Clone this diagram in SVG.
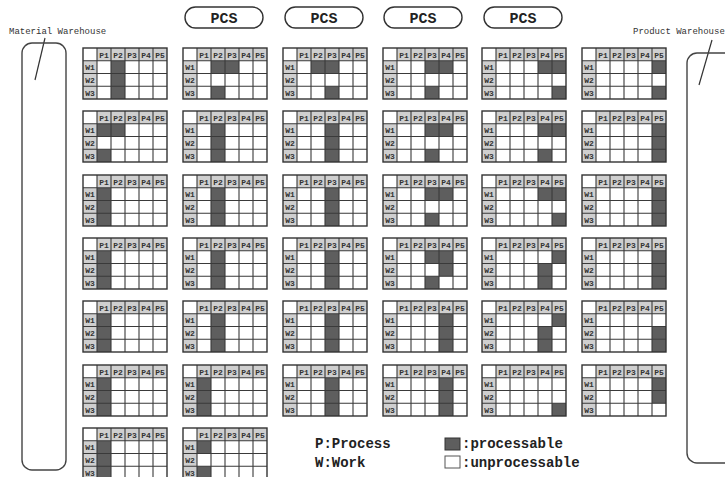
<svg xmlns="http://www.w3.org/2000/svg" xmlns:xlink="http://www.w3.org/1999/xlink" width="725" height="477" viewBox="0 0 725 477">
<style>
.bg{fill:#ffffff}
.hd{fill:#cfcfcf}
.on{fill:#5e5e5e}
.gl{fill:none;stroke:#3a3a3a;stroke-width:1.1}
.ol{fill:none;stroke:#333;stroke-width:1.4}
.ht{font-family:"Liberation Mono",monospace;font-size:8px;font-weight:bold;fill:#333;text-anchor:middle}
.pill{fill:#fff;stroke:#333;stroke-width:1.4}
.pt{font-family:"Liberation Mono",monospace;font-size:15px;font-weight:bold;fill:#222;text-anchor:middle}
.wh{fill:none;stroke:#444;stroke-width:1.4}
.wl{font-family:"Liberation Mono",monospace;font-size:9px;fill:#333}
.lg{font-family:"Liberation Mono",monospace;font-size:14px;font-weight:bold;fill:#222}
.ld{stroke:#333;stroke-width:1.2;fill:none}
</style>
<defs>
<rect id="c" class="on" width="14" height="12.75"/>
<rect id="col" class="on" width="14" height="38.25"/>
<g id="grid">
<rect class="hd" x="14" y="0" width="70" height="12.75"/>
<rect class="hd" x="0" y="12.75" width="14" height="38.25"/>
<path class="gl" d="M14 0V51M28 0V51M42 0V51M56 0V51M70 0V51M0 12.75H84M0 25.5H84M0 38.25H84"/>
<rect class="ol" x="0" y="0" width="84" height="51"/>
<text class="ht" x="21" y="9.5">P1</text>
<text class="ht" x="35" y="9.5">P2</text>
<text class="ht" x="49" y="9.5">P3</text>
<text class="ht" x="63" y="9.5">P4</text>
<text class="ht" x="77" y="9.5">P5</text>
<text class="ht" x="7" y="22.3">W1</text>
<text class="ht" x="7" y="35">W2</text>
<text class="ht" x="7" y="47.8">W3</text>
</g>
<rect id="bgr" class="bg" width="84" height="51"/>
</defs>

<g id="connectors">
<line class="ld" x1="45" y1="38" x2="35" y2="80"/>
<line class="ld" x1="712" y1="40" x2="699" y2="85"/>
</g>

<g id="material-warehouse">
<rect class="wh" x="22" y="43" width="44" height="427" rx="10"/>
<text class="wl" x="9" y="34">Material Warehouse</text>
</g>
<g id="product-warehouse">
<rect class="wh" x="687" y="53" width="50" height="410" rx="10"/>
<text class="wl" x="633" y="34">Product Warehouse</text>
</g>

<g id="pcs1"><rect class="pill" x="185" y="7" width="78" height="21" rx="10.5"/><text class="pt" x="224" y="23">PCS</text></g>
<g id="pcs2"><rect class="pill" x="285" y="7" width="78" height="21" rx="10.5"/><text class="pt" x="324" y="23">PCS</text></g>
<g id="pcs3"><rect class="pill" x="384" y="7" width="78" height="21" rx="10.5"/><text class="pt" x="423" y="23">PCS</text></g>
<g id="pcs4"><rect class="pill" x="484" y="7" width="78" height="21" rx="10.5"/><text class="pt" x="523" y="23">PCS</text></g>

<!-- Row 1 -->
<g id="t1-1" transform="translate(83,48)"><use href="#bgr"/><use href="#col" x="28" y="12.75"/><use href="#grid"/></g>
<g id="t1-2" transform="translate(183,48)"><use href="#bgr"/><use href="#c" x="28" y="12.75"/><use href="#c" x="42" y="12.75"/><use href="#c" x="28" y="38.25"/><use href="#grid"/></g>
<g id="t1-3" transform="translate(283,48)"><use href="#bgr"/><use href="#c" x="28" y="12.75"/><use href="#c" x="42" y="12.75"/><use href="#c" x="42" y="38.25"/><use href="#grid"/></g>
<g id="t1-4" transform="translate(383,48)"><use href="#bgr"/><use href="#c" x="42" y="12.75"/><use href="#c" x="56" y="12.75"/><use href="#c" x="42" y="38.25"/><use href="#grid"/></g>
<g id="t1-5" transform="translate(482,48)"><use href="#bgr"/><use href="#c" x="56" y="12.75"/><use href="#c" x="70" y="12.75"/><use href="#c" x="70" y="38.25"/><use href="#grid"/></g>
<g id="t1-6" transform="translate(582,48)"><use href="#bgr"/><use href="#c" x="70" y="12.75"/><use href="#c" x="70" y="38.25"/><use href="#grid"/></g>

<!-- Row 2 -->
<g id="t2-1" transform="translate(83,111)"><use href="#bgr"/><use href="#c" x="14" y="12.75"/><use href="#c" x="28" y="12.75"/><use href="#c" x="14" y="38.25"/><use href="#grid"/></g>
<g id="t2-2" transform="translate(183,111)"><use href="#bgr"/><use href="#col" x="28" y="12.75"/><use href="#grid"/></g>
<g id="t2-3" transform="translate(283,111)"><use href="#bgr"/><use href="#col" x="42" y="12.75"/><use href="#grid"/></g>
<g id="t2-4" transform="translate(383,111)"><use href="#bgr"/><use href="#c" x="42" y="12.75"/><use href="#c" x="56" y="12.75"/><use href="#c" x="42" y="38.25"/><use href="#grid"/></g>
<g id="t2-5" transform="translate(482,111)"><use href="#bgr"/><use href="#c" x="56" y="12.75"/><use href="#c" x="70" y="12.75"/><use href="#c" x="56" y="38.25"/><use href="#grid"/></g>
<g id="t2-6" transform="translate(582,111)"><use href="#bgr"/><use href="#col" x="70" y="12.75"/><use href="#grid"/></g>

<!-- Row 3 -->
<g id="t3-1" transform="translate(83,175)"><use href="#bgr"/><use href="#col" x="14" y="12.75"/><use href="#grid"/></g>
<g id="t3-2" transform="translate(183,175)"><use href="#bgr"/><use href="#col" x="28" y="12.75"/><use href="#grid"/></g>
<g id="t3-3" transform="translate(283,175)"><use href="#bgr"/><use href="#col" x="42" y="12.75"/><use href="#grid"/></g>
<g id="t3-4" transform="translate(383,175)"><use href="#bgr"/><use href="#c" x="42" y="12.75"/><use href="#c" x="56" y="12.75"/><use href="#c" x="42" y="38.25"/><use href="#grid"/></g>
<g id="t3-5" transform="translate(482,175)"><use href="#bgr"/><use href="#c" x="56" y="12.75"/><use href="#c" x="70" y="12.75"/><use href="#c" x="70" y="38.25"/><use href="#grid"/></g>
<g id="t3-6" transform="translate(582,175)"><use href="#bgr"/><use href="#col" x="70" y="12.75"/><use href="#grid"/></g>

<!-- Row 4 -->
<g id="t4-1" transform="translate(83,238)"><use href="#bgr"/><use href="#col" x="14" y="12.75"/><use href="#grid"/></g>
<g id="t4-2" transform="translate(183,238)"><use href="#bgr"/><use href="#col" x="28" y="12.75"/><use href="#grid"/></g>
<g id="t4-3" transform="translate(283,238)"><use href="#bgr"/><use href="#col" x="42" y="12.75"/><use href="#grid"/></g>
<g id="t4-4" transform="translate(383,238)"><use href="#bgr"/><use href="#c" x="42" y="12.75"/><use href="#c" x="56" y="12.75"/><use href="#c" x="56" y="25.5"/><use href="#c" x="42" y="38.25"/><use href="#grid"/></g>
<g id="t4-5" transform="translate(482,238)"><use href="#bgr"/><use href="#c" x="70" y="12.75"/><use href="#c" x="56" y="25.5"/><use href="#c" x="56" y="38.25"/><use href="#grid"/></g>
<g id="t4-6" transform="translate(582,238)"><use href="#bgr"/><use href="#col" x="70" y="12.75"/><use href="#grid"/></g>

<!-- Row 5 -->
<g id="t5-1" transform="translate(83,301)"><use href="#bgr"/><use href="#col" x="14" y="12.75"/><use href="#grid"/></g>
<g id="t5-2" transform="translate(183,301)"><use href="#bgr"/><use href="#col" x="28" y="12.75"/><use href="#grid"/></g>
<g id="t5-3" transform="translate(283,301)"><use href="#bgr"/><use href="#col" x="42" y="12.75"/><use href="#grid"/></g>
<g id="t5-4" transform="translate(383,301)"><use href="#bgr"/><use href="#col" x="56" y="12.75"/><use href="#grid"/></g>
<g id="t5-5" transform="translate(482,301)"><use href="#bgr"/><use href="#c" x="70" y="12.75"/><use href="#c" x="56" y="25.5"/><use href="#c" x="56" y="38.25"/><use href="#grid"/></g>
<g id="t5-6" transform="translate(582,301)"><use href="#bgr"/><use href="#c" x="70" y="25.5"/><use href="#c" x="70" y="38.25"/><use href="#grid"/></g>

<!-- Row 6 -->
<g id="t6-1" transform="translate(83,365)"><use href="#bgr"/><use href="#col" x="14" y="12.75"/><use href="#grid"/></g>
<g id="t6-2" transform="translate(183,365)"><use href="#bgr"/><use href="#col" x="14" y="12.75"/><use href="#grid"/></g>
<g id="t6-3" transform="translate(283,365)"><use href="#bgr"/><use href="#col" x="42" y="12.75"/><use href="#grid"/></g>
<g id="t6-4" transform="translate(383,365)"><use href="#bgr"/><use href="#col" x="56" y="12.75"/><use href="#grid"/></g>
<g id="t6-5" transform="translate(482,365)"><use href="#bgr"/><use href="#c" x="70" y="38.25"/><use href="#grid"/></g>
<g id="t6-6" transform="translate(582,365)"><use href="#bgr"/><use href="#c" x="70" y="12.75"/><use href="#c" x="70" y="25.5"/><use href="#grid"/></g>

<!-- Row 7 -->
<g id="t7-1" transform="translate(83,428)"><use href="#bgr"/><use href="#col" x="14" y="12.75"/><use href="#grid"/></g>
<g id="t7-2" transform="translate(183,428)"><use href="#bgr"/><use href="#c" x="14" y="12.75"/><use href="#c" x="14" y="38.25"/><use href="#grid"/></g>

<g id="legend">
<text class="lg" x="315" y="448">P:Process</text>
<text class="lg" x="315" y="467">W:Work</text>
<rect class="on" x="445" y="438" width="15" height="12" stroke="#333" stroke-width="1"/>
<text class="lg" x="462" y="448">:processable</text>
<rect x="445" y="456" width="15" height="12" fill="#fff" stroke="#555" stroke-width="1"/>
<text class="lg" x="462" y="467">:unprocessable</text>
</g>
</svg>
